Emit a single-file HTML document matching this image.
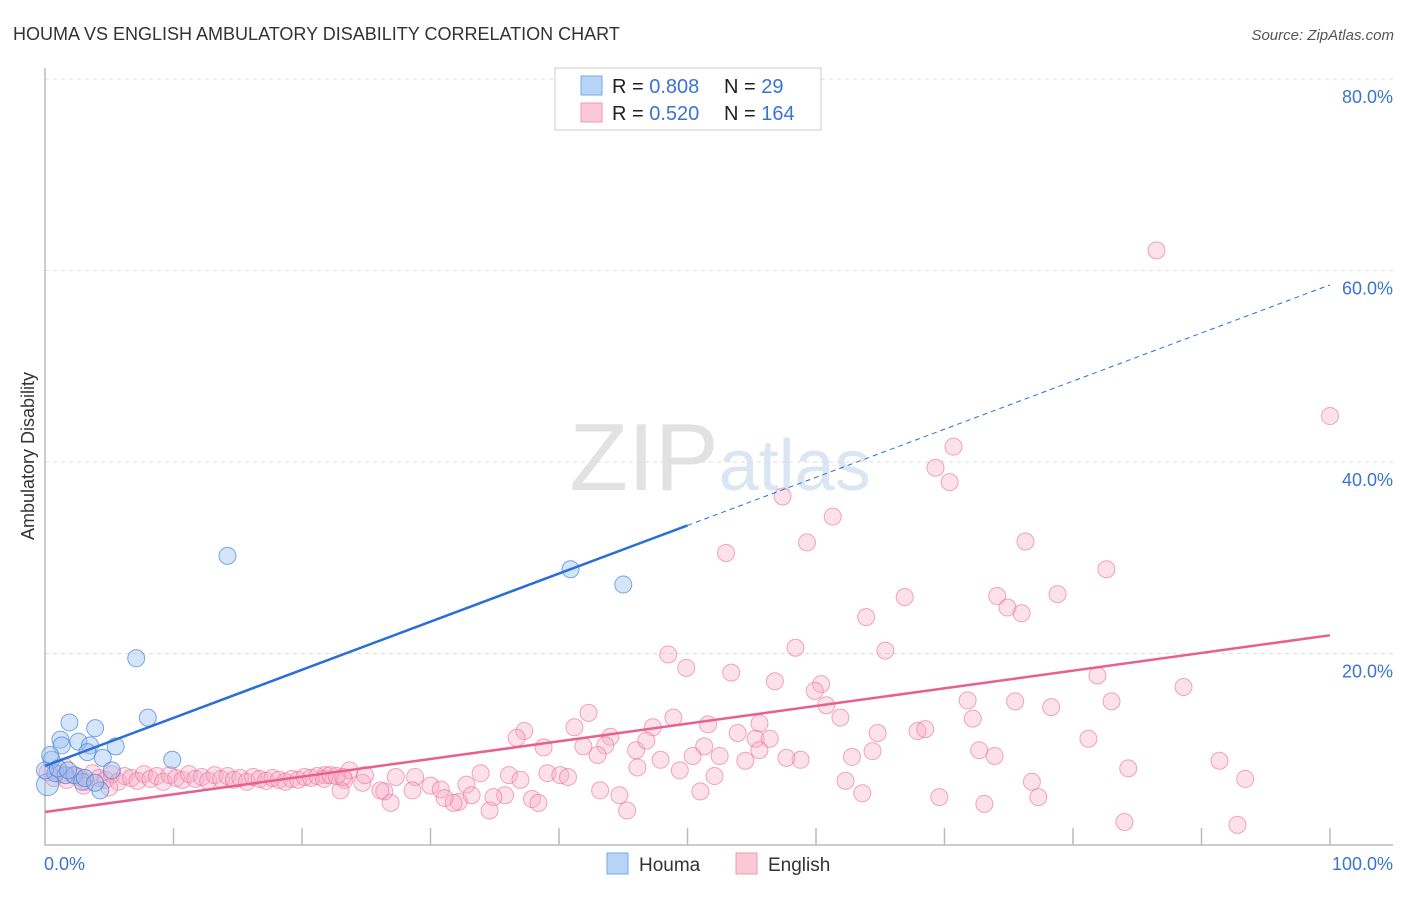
<!DOCTYPE html>
<html><head><meta charset="utf-8"><style>
body{margin:0;background:#fff;font-family:"Liberation Sans",sans-serif;}
svg text{font-family:"Liberation Sans",sans-serif;}
</style></head><body>
<svg id="chart" width="1406" height="892" viewBox="0 0 1406 892">
<text x="13" y="40" font-size="18" fill="#333">HOUMA VS ENGLISH AMBULATORY DISABILITY CORRELATION CHART</text>
<text x="1394" y="40" font-size="15" fill="#555" font-style="italic" text-anchor="end">Source: ZipAtlas.com</text>
<text x="720" y="490" font-size="96" fill="#e6e6e6" text-anchor="middle" font-family="Liberation Serif"><tspan fill="#e2e2e2">ZIP</tspan><tspan fill="#dbe6f3" font-family="Liberation Sans" font-size="72">atlas</tspan></text>
<text transform="translate(34,456) rotate(-90)" font-size="18" fill="#333" text-anchor="middle">Ambulatory Disability</text>
<g id="grid"></g><g id="axes"></g>
<g id="pink"></g><g id="blue"></g><g id="lines"></g>
<g>
<rect x="555" y="68" width="266" height="62" fill="#fff" stroke="#ccc"/>
<rect x="581" y="76" width="21" height="19" fill="#b7d3f5" stroke="#7aaae6"/>
<rect x="581" y="103" width="21" height="19" fill="#fbc8d7" stroke="#ee9ab3"/>
<text x="612" y="93" font-size="20" fill="#222">R = <tspan fill="#3a74d0">0.808</tspan></text>
<text x="724" y="93" font-size="20" fill="#222">N = <tspan fill="#3a74d0">  29</tspan></text>
<text x="612" y="120" font-size="20" fill="#222">R = <tspan fill="#3a74d0">0.520</tspan></text>
<text x="724" y="120" font-size="20" fill="#222">N = <tspan fill="#3a74d0">164</tspan></text>
</g>
<g>
<rect x="607" y="853" width="21" height="21" fill="#b7d3f5" stroke="#7aaae6"/>
<text x="639" y="871" font-size="19" fill="#333">Houma</text>
<rect x="736" y="853" width="21" height="21" fill="#fbc8d7" stroke="#ee9ab3"/>
<text x="768" y="871" font-size="19" fill="#333">English</text>
</g>
</svg>
<script>
const yTicks=[20,40,60,80];
const yTickLabels=["20.0%","40.0%","60.0%","80.0%"];
const xTickLabels=["0.0%","100.0%"];
const houmaX=[0.2,0.5,1.2,1.3,1.9,2.6,3.5,3.9,3.3,0.8,1.6,2.3,2.9,4.3,4.5,5.2,5.5,7.1,8.0,9.9,14.2,40.9,45.0,0,1.0,3.1,3.9,0.4,1.8];
const houmaY=[6.3,8.9,11.0,10.4,12.8,10.8,10.4,12.2,9.7,7.5,7.3,7.3,6.6,5.7,9.1,7.8,10.3,19.5,13.3,8.9,30.2,28.8,27.2,7.8,8.0,7.0,6.5,9.4,7.8];
const englishX=[86.5,100,70.7,69.3,70.4,57.4,61.3,59.3,76.3,53.0,82.6,66.9,74.1,78.8,74.9,76.0,63.9,58.4,48.5,65.4,49.9,53.4,56.8,60.4,59.9,81.9,88.6,71.8,75.5,60.8,78.3,83.0,42.3,61.9,72.2,51.6,41.2,37.3,47.3,48.9,55.6,53.9,64.8,67.9,68.5,36.7,41.9,44.0,43.6,43.0,38.8,46.0,46.8,51.3,55.3,56.4,55.6,50.4,52.5,64.4,62.8,72.7,73.9,81.2,58.8,54.5,46.1,47.9,57.7,91.4,84.3,93.4,33.9,36.1,28.8,39.1,40.1,40.7,27.3,30.0,30.8,32.8,33.2,35.8,34.9,32.2,31.1,31.8,28.6,26.9,26.4,24.7,23.3,23.0,37.9,38.4,34.6,45.3,44.7,51.0,52.1,62.3,63.6,69.6,73.1,76.8,77.3,84.0,92.8,43.2,49.4,37.0,23.7,24.9,26.1,21.8,
0.2,0.7,1.2,1.7,2.2,2.7,3.2,3.7,4.2,4.7,5.2,5.7,6.2,6.7,7.2,7.7,8.2,8.7,9.2,9.7,10.2,10.7,11.2,11.7,12.2,12.7,13.2,13.7,14.2,14.7,15.2,15.7,16.2,16.7,17.2,17.7,18.2,18.7,19.2,19.7,20.2,20.7,21.2,21.7,22.2,22.7,23.2,1.5,3.0,5.0];
const englishY=[62.1,44.8,41.6,39.4,37.9,36.4,34.3,31.6,31.7,30.5,28.8,25.9,26.0,26.2,24.8,24.2,23.8,20.6,19.9,20.3,18.5,18.0,17.1,16.8,16.1,17.7,16.5,15.1,15.0,14.6,14.4,15.0,13.8,13.3,13.2,12.6,12.3,11.9,12.3,13.3,12.7,11.7,11.7,11.9,12.1,11.2,10.3,11.3,10.4,9.4,10.2,9.9,10.9,10.3,11.1,11.1,9.9,9.3,9.3,9.8,9.2,9.9,9.3,11.1,8.9,8.8,8.1,8.9,9.1,8.8,8.0,6.9,7.5,7.3,7.1,7.5,7.3,7.1,7.1,6.2,5.8,6.3,5.2,5.2,5.0,4.5,4.9,4.4,5.7,4.4,5.6,6.5,6.8,5.7,4.8,4.4,3.6,3.6,5.2,5.6,7.2,6.7,5.4,5.0,4.3,6.6,5.0,2.4,2.1,5.7,7.8,6.8,7.8,7.3,5.7,7.3,
7.6,7.0,7.4,6.8,7.3,7.1,6.6,7.5,7.0,6.8,7.4,6.6,7.2,7.0,6.7,7.4,6.9,7.2,6.6,7.3,7.0,6.8,7.4,6.9,7.1,6.7,7.3,6.9,7.2,6.8,7.0,6.6,7.1,6.9,6.7,7.0,6.8,6.6,6.9,6.8,7.1,7.0,7.2,6.9,7.3,7.2,7.1,8.2,6.2,6.0];
const houmaTrend=[8.25,58.5];
const englishTrend=[3.45,21.9];
const NS="http://www.w3.org/2000/svg";
const X0=45,X1=1330,Y0=845,YPER=9.575;
const sx=v=>X0+(X1-X0)*v/100;
const sy=v=>Y0-v*YPER;
function mk(tag,attrs,parent){const e=document.createElementNS(NS,tag);for(const k in attrs)e.setAttribute(k,attrs[k]);parent.appendChild(e);return e;}
const grid=document.getElementById('grid'),axes=document.getElementById('axes');
yTicks.forEach((t,i)=>{
 const l=mk('line',{x1:X0,x2:1393,y1:sy(t),y2:sy(t),stroke:'#ddd','stroke-dasharray':'4,4'},grid);
 
 
 const tx=mk('text',{x:1393,y:sy(t)+24,'font-size':18,fill:'#3a74d0','text-anchor':'end'},axes);
 tx.textContent=yTickLabels[i];
 
 
});
const ax=mk('path',{d:`M${X0} 68V${Y0}H1393`,stroke:'#bbb',fill:'none','stroke-width':1.5},axes);


for(let i=1;i<=10;i++){
 const t=mk('line',{x1:sx(i*10),x2:sx(i*10),y1:Y0-17,y2:Y0,stroke:'#bbb','stroke-width':1.5},axes);
 
 
}
[[0,'start',44],[100,'end',1393]].forEach(([v,a,x],i)=>{
 const t=mk('text',{x:x,y:870,'font-size':18,fill:'#3a74d0','text-anchor':a},axes);
 t.textContent=xTickLabels[i];
 
 
});
const pg=document.getElementById('pink');
englishX.forEach((v,i)=>{
 const c=mk('circle',{cx:sx(v),cy:sy(englishY[i]),r:8.5,fill:'rgba(248,170,195,0.35)',stroke:'rgba(232,110,150,0.6)','stroke-width':1},pg);
 
 
});
const bg=document.getElementById('blue');
houmaX.forEach((v,i)=>{
 const c=mk('circle',{cx:sx(v),cy:sy(houmaY[i]),r:i==0?11:8.5,fill:'rgba(150,190,240,0.4)',stroke:'rgba(70,130,220,0.7)','stroke-width':1},bg);
 
 
});
const lg=document.getElementById('lines');
const hAt=x=>houmaTrend[0]+(houmaTrend[1]-houmaTrend[0])*x/100;
const l1=mk('line',{x1:sx(0),y1:sy(hAt(0)),x2:sx(50),y2:sy(hAt(50)),stroke:'#2a6fd6','stroke-width':2.5},lg);


const l2=mk('line',{x1:sx(50),y1:sy(hAt(50)),x2:sx(100),y2:sy(hAt(100)),stroke:'#2a6fd6','stroke-width':1,'stroke-dasharray':'5,4'},lg);


const l3=mk('line',{x1:sx(0),y1:sy(englishTrend[0]),x2:sx(100),y2:sy(englishTrend[1]),stroke:'#e8608c','stroke-width':2.5},lg);


</script>
</body></html>
